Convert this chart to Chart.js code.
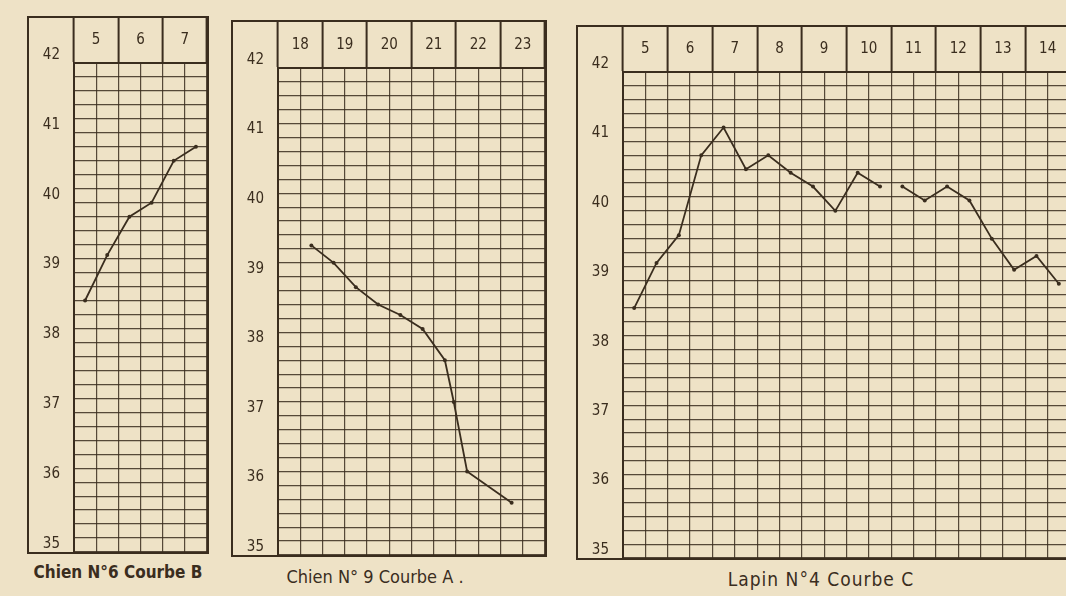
<!DOCTYPE html>
<html>
<head>
<meta charset="utf-8">
<script src="https://cdn.jsdelivr.net/npm/chart.js@4.4.1/dist/chart.umd.min.js"></script>
<style>
  html, body { margin: 0; padding: 0; }
  body {
    width: 1066px; height: 596px; overflow: hidden; position: relative;
    background: #eee2c6;
    font-family: "DejaVu Sans Condensed", "DejaVu Sans", sans-serif;
    color: #3a2d1e;
  }
  .frame { position: absolute; border: 2px solid #3a2d1e; }
  .frame canvas { display: block; }
  .title { position: absolute; white-space: nowrap; transform: translateX(-50%); }
</style>
</head>
<body>

<div class="frame" style="left:27px; top:16px; width:178px; height:534px;"><canvas id="chartB"></canvas></div>
<div class="frame" style="left:231px; top:20px; width:312px; height:533px;"><canvas id="chartA"></canvas></div>
<div class="frame" style="left:576px; top:25px; width:492px; height:531px;"><canvas id="chartC"></canvas></div>

<div class="title" style="left:118px; top:562px; font-size:17px; font-weight:bold;">Chien N°6 Courbe B</div>
<div class="title" style="left:375px; top:566px; font-size:18px;">Chien N° 9 Courbe A .</div>
<div class="title" style="left:821px; top:568px; font-size:19px; letter-spacing:1px;">Lapin N°4 Courbe C</div>

<script>
// ─── DATA ──────────────────────────────────────────────────
// Chien N°6, courbe B  (two readings a day: morning / evening)
const daysB  = [5, 6, 7];
const timesB = [5.25, 5.75, 6.25, 6.75, 7.25, 7.75];
const tempsB = [38.6, 39.25, 39.8, 40.0, 40.6, 40.8];

// Chien N°9, courbe A
const daysA  = [18, 19, 20, 21, 22, 23];
const timesA = [18.75, 19.25, 19.75, 20.25, 20.75, 21.25, 21.75, 21.95, 22.25, 23.25];
const tempsA = [39.45, 39.2, 38.85, 38.6, 38.45, 38.25, 37.8, 37.2, 36.2, 35.75];

// Lapin N°4, courbe C  (null = break in the trace)
const daysC  = [5, 6, 7, 8, 9, 10, 11, 12, 13, 14];
const timesC = [5.25, 5.75, 6.25, 6.75, 7.25, 7.75, 8.25, 8.75, 9.25, 9.75,
                10.25, 10.75, 11.0, 11.25, 11.75, 12.25, 12.75, 13.25, 13.75, 14.25, 14.75];
const tempsC = [38.6, 39.25, 39.65, 40.8, 41.2, 40.6, 40.8, 40.55, 40.35, 40.0,
                40.55, 40.35, null, 40.35, 40.15, 40.35, 40.15, 39.6, 39.15, 39.35, 38.95];

const tempMin = 35, tempMax = 42;

// ─── STYLE ─────────────────────────────────────────────────
const INK  = '#3a2d1e';
const GRID = 'rgba(58,45,30,0.85)';
const FONT = '"DejaVu Sans Condensed", "DejaVu Sans", sans-serif';

const isWhole = v => Math.abs(v - Math.round(v)) < 1e-6;

function tempChart(id, days, times, temps, head) {
  const first = days[0];
  const last  = days[days.length - 1] + 1;

  return new Chart(document.getElementById(id), {
    type: 'line',
    data: {
      datasets: [{
        data: times.map((t, i) => ({ x: t, y: temps[i] })),
        borderColor: INK,
        borderWidth: 1.8,
        pointRadius: 2,
        pointBackgroundColor: INK,
        pointBorderWidth: 0,
        tension: 0,
        spanGaps: false,
        clip: 4,
      }],
    },
    options: {
      responsive: true,
      maintainAspectRatio: false,
      animation: false,
      layout: { padding: 0, autoPadding: false },
      plugins: { legend: { display: false }, tooltip: { enabled: false } },
      scales: {
        x: {
          type: 'linear',
          position: 'top',
          min: first,
          max: last,
          // header row: fixed height, grid runs to the frame edges
          afterFit: s => { s.height = head; s.paddingLeft = 0; s.paddingRight = 0; },
          border: { color: INK, width: 2 },
          grid: {
            color: GRID,
            lineWidth: 1.2,
            tickLength: head,
            tickWidth: 2,
            tickColor: c => isWhole(c.tick.value) ? INK : 'rgba(0,0,0,0)',
          },
          ticks: {
            stepSize: 0.5,
            autoSkip: false,
            maxRotation: 0,
            padding: -(head / 2 + 9),
            color: INK,
            font: { family: FONT, size: 15 },
            callback: v => isWhole(v) ? '' : String(Math.floor(v)),
          },
        },
        y: {
          min: tempMin,
          max: tempMax,
          afterFit: s => { s.width = 45; s.paddingTop = 0; s.paddingBottom = 0; },
          border: { color: INK, width: 2 },
          grid: { color: GRID, lineWidth: 1.2, drawTicks: false },
          ticks: {
            stepSize: 0.2,
            autoSkip: false,
            crossAlign: 'center',
            padding: 14,
            labelOffset: -8,
            color: INK,
            font: { family: FONT, size: 15 },
            callback: v => isWhole(v) ? String(Math.round(v)) : '',
          },
        },
      },
    },
  });
}

tempChart('chartB', daysB, timesB, tempsB, 45);
tempChart('chartA', daysA, timesA, tempsA, 46);
tempChart('chartC', daysC, timesC, tempsC, 45);
</script>
</body>
</html>
